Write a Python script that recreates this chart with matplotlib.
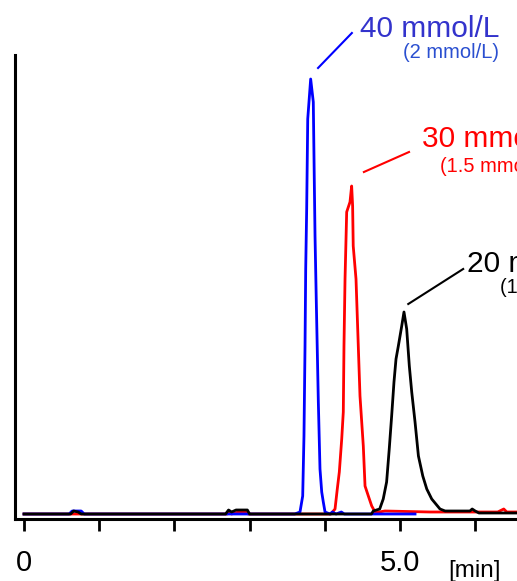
import matplotlib.pyplot as plt

plt.rcParams['font.family'] = ['Liberation Sans', 'DejaVu Sans']

# retention time [min] and signal
t_blue = [0.00, 0.60, 0.64, 0.70, 0.76, 0.80, 3.60, 3.67, 3.706, 3.723, 3.737,
          3.746, 3.759, 3.773, 3.812, 3.847, 3.860, 3.870, 3.887, 3.914, 3.936,
          3.959, 3.980, 4.003, 4.07, 4.10, 4.15, 4.22, 4.26, 5.20]
s_blue = [0, 0, 3, 3, 3, 0, 0, 2, 18, 78, 168,
          245, 305, 395, 435, 412, 335, 278, 212, 112, 45,
          22, 12, 2, 0, 2, 0, 2, 0, 0]

t_red = [0.00, 2.70, 2.72, 2.76, 2.85, 2.95, 2.98, 4.08, 4.136, 4.166, 4.193,
         4.225, 4.246, 4.255, 4.269, 4.291, 4.335, 4.357, 4.370, 4.378, 4.415,
         4.468, 4.512, 4.535, 4.579, 4.624, 4.668, 4.72, 4.80, 5.40, 6.30,
         6.38, 6.42, 6.60]
s_red = [0, 0, 2, 0, 2, 2, 0, 0, 5, 25, 42,
         75, 102, 168, 235, 302, 312, 328, 308, 268, 235,
         118, 68, 28, 18, 8, 2, 2, 3, 2, 2,
         5, 2, 2]

t_black = [0.00, 0.62, 0.66, 0.72, 0.76, 2.68, 2.72, 2.76, 2.82, 2.97, 3.00,
           4.62, 4.645, 4.73, 4.777, 4.822, 4.857, 4.889, 4.920, 4.947, 4.978,
           5.023, 5.053, 5.089, 5.124, 5.156, 5.200, 5.245, 5.303, 5.356, 5.422,
           5.532, 5.60, 5.93, 5.96, 6.00, 6.05, 6.60]
s_black = [0, 0, 3, 2, 0, 0, 4, 2, 4, 4, 0,
           0, 3, 5, 15, 32, 65, 98, 132, 155, 168,
           188, 202, 185, 148, 122, 92, 58, 38, 25, 15,
           5, 3, 3, 5, 3, 1, 1]

labels = ['40 mmol/L', '30 mmol/L', '20 mmol/L']
sublabels = ['(2 mmol/L)', '(1.5 mmol/L)', '(1 mmol/L)']
label_colors = ['#3333cc', '#ff0000', '#000000']
sub_colors = ['#2a4fd0', '#ff0000', '#000000']
leader_colors = ['#0000ff', '#ff0000', '#000000']

fig = plt.figure(figsize=(5.17, 5.81), dpi=100)
ax = fig.add_axes([15 / 517, 62 / 581, 502 / 517, 464 / 581])

ax.plot(t_red, s_red, color='#ff0000', lw=2.0, solid_joinstyle='round')
ax.plot(t_blue, s_blue, color='#0000ff', lw=2.0, solid_joinstyle='round')
ax.plot(t_black, s_black, color='#000000', lw=2.0, solid_joinstyle='round')

ax.set_xlim(-0.12, 6.556)
ax.set_ylim(-5, 459)

for side in ['top', 'right']:
    ax.spines[side].set_visible(False)
for side in ['left', 'bottom']:
    ax.spines[side].set_linewidth(2.2)

ax.set_yticks([])
ax.set_xticks([0, 1, 2, 3, 4, 5, 6])
ax.set_xticklabels(['0', '', '', '', '', '5.0', ''])
ax.tick_params(axis='x', direction='out', length=8.5, width=2, pad=13,
               labelsize=21)

# leader lines and peak labels
leaders = [([3.91, 4.36], [446, 481]),
           ([4.52, 5.12], [342, 362]),
           ([5.11, 5.84], [210, 245])]
main_pos = [(4.468, 477), (5.293, 367), (5.891, 242)]
sub_pos = [(5.04, 456), (5.532, 342), (6.330, 221)]

for i in range(3):
    lx, ly = leaders[i]
    ax.plot(lx, ly, color=leader_colors[i], lw=1.5, clip_on=False)
    ax.text(main_pos[i][0], main_pos[i][1], labels[i], color=label_colors[i],
            fontsize=21.5, ha='left', va='baseline', clip_on=False)
    ax.text(sub_pos[i][0], sub_pos[i][1], sublabels[i], color=sub_colors[i],
            fontsize=14.5, ha='left', va='baseline', clip_on=False)

fig.text(448 / 517, 4 / 581, '[min]', fontsize=17.5, ha='left', va='baseline')

fig.savefig('out.png', dpi=100)
